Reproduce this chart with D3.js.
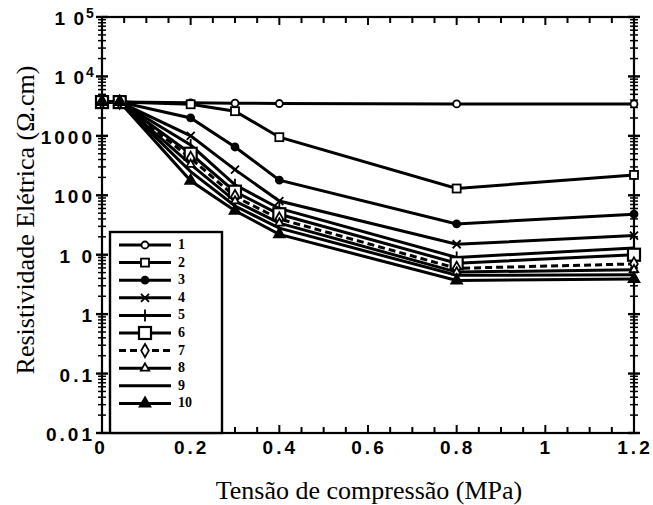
<!DOCTYPE html>
<html>
<head>
<meta charset="utf-8">
<script src="https://cdn.jsdelivr.net/npm/d3@7"></script>
<style>
  body { margin: 0; background: #fff; }
</style>
</head>
<body>
<svg id="chart"></svg>
<script>
// pressão aplicada (MPa)
const pressure = [0, 0.04, 0.2, 0.3, 0.4, 0.8, 1.2];

// resistividade (ohm.cm) de cada amostra
const s1  = [3700, 3700, 3600, 3550, 3500, 3450, 3450];
const s2  = [3700, 3700, 3400, 2600, 950, 130, 220];
const s3  = [3700, 3700, 2000, 650, 180, 33, 48];
const s4  = [3700, 3700, 1000, 270, 80, 15, 21];
const s5  = [3700, 3700, 700, 150, 60, 9, 13];
const s6  = [3700, 3700, 500, 115, 48, 7.2, 10];
const s7  = [3700, 3700, 420, 95, 40, 5.9, 7];
const s8  = [3700, 3700, 330, 80, 34, 5.1, 5.6];
const s9  = [3700, 3700, 250, 66, 28, 4.5, 4.6];
const s10 = [3700, 3700, 175, 55, 22, 3.7, 3.9];

const seriesNames = ['1', '2', '3', '4', '5', '6', '7', '8', '9', '10'];
const seriesValues = [s1, s2, s3, s4, s5, s6, s7, s8, s9, s10];
const markerTypes = ['circle', 'square', 'dot', 'cross', 'plus', 'bigsquare', 'diamond', 'triangle', 'none', 'filltri'];

const yTicks = [1e5, 1e4, 1000, 100, 10, 1, 0.1, 0.01];
const yTickText = ['1 0', '1 0', '1000', '100', '1 0', '1', '0.1', '0.01'];
const yTickSup = ['5', '4', '', '', '', '', '', ''];
const xTicks = [0, 0.2, 0.4, 0.6, 0.8, 1, 1.2];
const xTickText = ['0', '0.2', '0.4', '0.6', '0.8', '1', '1.2'];

const W = 653, H = 505;
const margin = {top: 17, right: 19, bottom: 72, left: 102};

const svg = d3.select('#chart').attr('width', W).attr('height', H);

const x = d3.scaleLinear().domain([0, 1.2]).range([margin.left, W - margin.right]);
const y = d3.scaleLog().domain([0.01, 1e5]).range([H - margin.bottom, margin.top]);

const x0 = x.range()[0], x1 = x.range()[1];
const y0 = y.range()[0], y1 = y.range()[1];

// moldura
svg.append('rect')
    .attr('x', x0).attr('y', y1)
    .attr('width', x1 - x0).attr('height', y0 - y1)
    .attr('fill', 'none').attr('stroke', '#000').attr('stroke-width', 2.2);

// ticks do eixo x (topo e base, para dentro)
const xMinor = d3.range(0, 1.2001, 0.05);
xMinor.forEach(v => {
    const major = Math.abs(v / 0.2 - Math.round(v / 0.2)) < 1e-6;
    const len = major ? 8 : 6;
    svg.append('line').attr('x1', x(v)).attr('x2', x(v)).attr('y1', y0).attr('y2', y0 - len)
        .attr('stroke', '#000').attr('stroke-width', 2);
    svg.append('line').attr('x1', x(v)).attr('x2', x(v)).attr('y1', y1).attr('y2', y1 + len)
        .attr('stroke', '#000').attr('stroke-width', 2);
});

// ticks do eixo y (log, cruzando os eixos esquerdo e direito)
for (let e = -2; e < 5; e++) {
    for (let m = 1; m < 10; m++) {
        const v = m * Math.pow(10, e);
        const len = m === 1 ? 6 : 4;
        [x0, x1].forEach(px => {
            svg.append('line').attr('x1', px - len).attr('x2', px + len)
                .attr('y1', y(v)).attr('y2', y(v))
                .attr('stroke', '#000').attr('stroke-width', m === 1 ? 2.4 : 1.5);
        });
    }
}
[x0, x1].forEach(px => {
    svg.append('line').attr('x1', px - 6).attr('x2', px + 6)
        .attr('y1', y(1e5)).attr('y2', y(1e5))
        .attr('stroke', '#000').attr('stroke-width', 2.4);
});

// rótulos do eixo y
const tickFont = 'Liberation Sans, Arial, sans-serif';
yTicks.forEach((v, i) => {
    const sup = yTickSup[i];
    svg.append('text')
        .attr('x', sup ? 84 : 95)
        .attr('y', y(v) + 8)
        .attr('text-anchor', 'end')
        .attr('font-family', tickFont)
        .attr('font-weight', 'bold')
        .attr('font-size', 19)
        .attr('letter-spacing', sup ? 0 : 3)
        .attr('word-spacing', sup ? 3 : 0)
        .text(yTickText[i]);
    if (sup) {
        svg.append('text')
            .attr('x', 86).attr('y', y(v) + 1)
            .attr('font-family', tickFont)
            .attr('font-weight', 'bold')
            .attr('font-size', 14)
            .text(sup);
    }
});

// rótulos do eixo x
xTicks.forEach((v, i) => {
    svg.append('text')
        .attr('x', x(v) + (i === 0 ? -1 : 1))
        .attr('y', y0 + 21)
        .attr('text-anchor', 'middle')
        .attr('font-family', tickFont)
        .attr('font-weight', 'bold')
        .attr('font-size', 19)
        .attr('letter-spacing', 3)
        .text(xTickText[i]);
});

// títulos
svg.append('text')
    .attr('x', 369).attr('y', 499)
    .attr('text-anchor', 'middle')
    .attr('font-family', 'Liberation Serif, Times New Roman, serif')
    .attr('font-size', 26)
    .text('Tensão de compressão (MPa)');

svg.append('text')
    .attr('transform', 'translate(34,220) rotate(-90)')
    .attr('text-anchor', 'middle')
    .attr('font-family', 'Liberation Serif, Times New Roman, serif')
    .attr('font-size', 26)
    .text('Resistividade Elétrica (Ω.cm)');

// marcadores
function drawMarker(g, type, cx, cy) {
    let m = null;
    if (type === 'circle') {
        m = g.append('circle').attr('cx', cx).attr('cy', cy).attr('r', 3.5).attr('fill', '#fff');
    } else if (type === 'square') {
        m = g.append('rect').attr('x', cx - 4).attr('y', cy - 4).attr('width', 8).attr('height', 8).attr('fill', '#fff');
    } else if (type === 'bigsquare') {
        m = g.append('rect').attr('x', cx - 6).attr('y', cy - 6).attr('width', 12).attr('height', 12).attr('fill', '#fff');
    } else if (type === 'dot') {
        m = g.append('circle').attr('cx', cx).attr('cy', cy).attr('r', 3.5).attr('fill', '#000');
    } else if (type === 'cross') {
        m = g.append('path').attr('d', `M${cx - 4},${cy - 4}L${cx + 4},${cy + 4}M${cx - 4},${cy + 4}L${cx + 4},${cy - 4}`)
            .attr('fill', 'none');
    } else if (type === 'plus') {
        m = g.append('path').attr('d', `M${cx},${cy - 6}L${cx},${cy + 6}`)
            .attr('fill', 'none');
    } else if (type === 'diamond') {
        m = g.append('path').attr('d', d3.symbol(d3.symbolDiamond, 50)())
            .attr('transform', `translate(${cx},${cy})`).attr('fill', '#fff');
    } else if (type === 'triangle') {
        m = g.append('path').attr('d', d3.symbol(d3.symbolTriangle, 30)())
            .attr('transform', `translate(${cx},${cy})`).attr('fill', '#fff');
    } else if (type === 'filltri') {
        m = g.append('path').attr('d', d3.symbol(d3.symbolTriangle, 50)())
            .attr('transform', `translate(${cx},${cy})`).attr('fill', '#000');
    }
    if (m) m.attr('stroke', '#000').attr('stroke-width', type === 'bigsquare' ? 2.2 : 1.8);
}

// linhas
const line = d3.line().x(d => x(d[0])).y(d => y(d[1]));
const plot = svg.append('g');
seriesValues.forEach((vals, i) => {
    const pts = pressure.map((p, j) => [p, vals[j]]);
    plot.append('path')
        .attr('d', line(pts))
        .attr('fill', 'none')
        .attr('stroke', '#000')
        .attr('stroke-width', 3)
        .attr('stroke-dasharray', markerTypes[i] === 'diamond' ? '7,4' : null);
});
seriesValues.forEach((vals, i) => {
    pressure.forEach((p, j) => drawMarker(plot, markerTypes[i], x(p), y(vals[j])));
});

// legenda
const legend = svg.append('g');
legend.append('rect')
    .attr('x', 110).attr('y', 232).attr('width', 112).attr('height', y0 - 232)
    .attr('fill', '#fff').attr('stroke', '#000').attr('stroke-width', 2.4);
seriesNames.forEach((name, i) => {
    const ly = 245 + i * 17.6;
    legend.append('line')
        .attr('x1', 119).attr('x2', 171).attr('y1', ly).attr('y2', ly)
        .attr('stroke', '#000').attr('stroke-width', 3)
        .attr('stroke-dasharray', markerTypes[i] === 'diamond' ? '7,4' : null);
    drawMarker(legend, markerTypes[i], 145, ly);
    legend.append('text')
        .attr('x', 178).attr('y', ly + 4)
        .attr('font-family', 'Liberation Serif, Times New Roman, serif')
        .attr('font-weight', 'bold')
        .attr('font-size', 14)
        .text(name);
});
</script>
</body>
</html>
